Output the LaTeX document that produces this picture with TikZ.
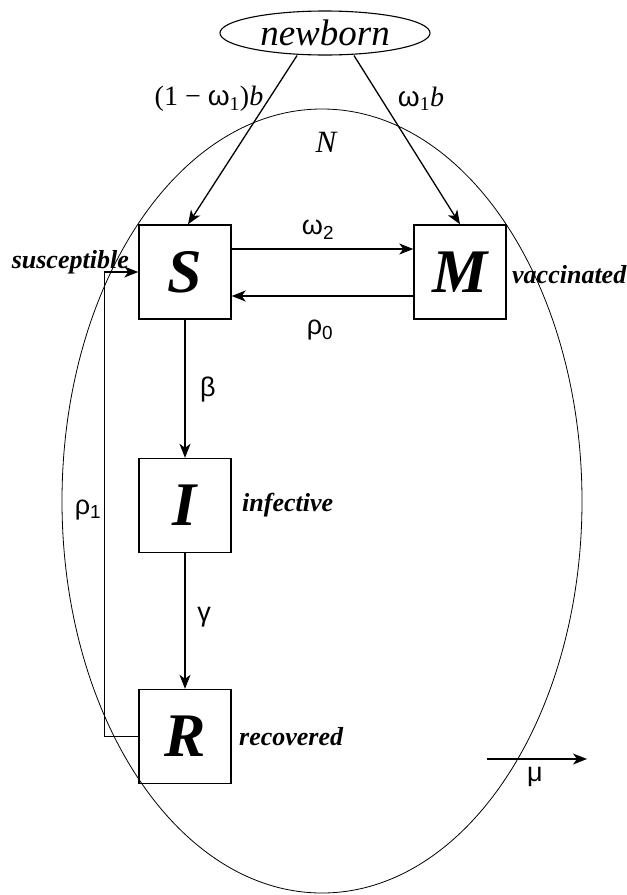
\documentclass[tikz,border=0pt]{standalone}
\usepackage{fontspec}
\setmainfont{Liberation Serif}
\newfontfamily\grkfont{Liberation Sans}
\usetikzlibrary{arrows.meta,shapes.geometric}
\begin{document}
\begin{tikzpicture}[x=1pt,y=-1pt,
  box/.style={draw, line width=1.4pt, minimum width=92pt, minimum height=94pt, inner sep=0pt,
              font=\fontsize{62}{62}\selectfont\bfseries\itshape},
  arr/.style={line width=1.3pt, -{Stealth[length=14pt,width=11pt,inset=4pt]}},
  lab/.style={font=\fontsize{26}{28}\selectfont\bfseries\itshape, inner sep=0pt},
  grk/.style={font=\fontsize{27}{29}\selectfont\grkfont, inner sep=0pt},
  omg/.style={font=\fontsize{28}{30}\selectfont, inner sep=0pt}]
\useasboundingbox (0,0) rectangle (627,895);
% population ellipse
\node[draw, ellipse, line width=0.8pt, minimum width=520pt, minimum height=784pt, inner sep=0pt] (pop) at (322,501) {};
% newborn
\node[draw, ellipse, line width=1.1pt, minimum width=210pt, minimum height=44pt, inner sep=0pt,
      text height=24pt, text depth=0pt,
      font=\fontsize{37}{37}\selectfont\itshape] (nb) at (325,33) {newborn};
% compartments
\node[box] (S) at (185,272) {S};
\node[box] (M) at (460,272) {M};
\node[box] (I) at (185,505.5) {I};
\node[box] (R) at (185,736.5) {R};
% connectors
\draw[arr] ([xshift=-28pt]nb.south) -- ([xshift=3pt]S.north);
\draw[arr] ([xshift=29pt]nb.south) -- (M.north);
\draw[arr] ([yshift=23pt]S.east) -- ([yshift=23pt]M.west);
\draw[arr] ([yshift=-24pt]M.west) -- ([yshift=-24pt]S.east);
\draw[arr] (S.south) -- (I.north);
\draw[arr] (I.south) -- (R.north);
\draw[arr] (R.west) -- ++(-34,0) |- (S.west);
\coordinate (mu1) at (487,759);
\coordinate (mu2) at (587,759);
\draw[arr] (mu1) -- (mu2);
% labels
\node[omg] (l1) at (209,99) {(1 − {\grkfont ω}\textsubscript{1})\textit{b}};
\node[omg] (l2) at (421,99) {{\grkfont ω}\textsubscript{1}\textit{b}};
\node[font=\fontsize{31}{31}\selectfont\itshape, inner sep=0pt] (Nl) at (326,142) {N};
\node[grk] (w2) at (318,230) {ω\textsubscript{2}};
\node[grk] (r0) at (320,330) {ρ\textsubscript{0}};
\node[grk] (be) at (208,390) {β};
\node[grk] (r1) at (88,510) {ρ\textsubscript{1}};
\node[grk] (ga) at (204,617) {γ};
\node[grk] (mu) at (535,777) {μ};
\node[lab, anchor=east] (sus) at (129,262) {susceptible};
\node[lab, anchor=west] (vac) at (512,275) {vaccinated};
\node[lab, anchor=west] (inf) at (242,505) {infective};
\node[lab, anchor=west] (rec) at (239,737) {recovered};
\end{tikzpicture}
\end{document}
